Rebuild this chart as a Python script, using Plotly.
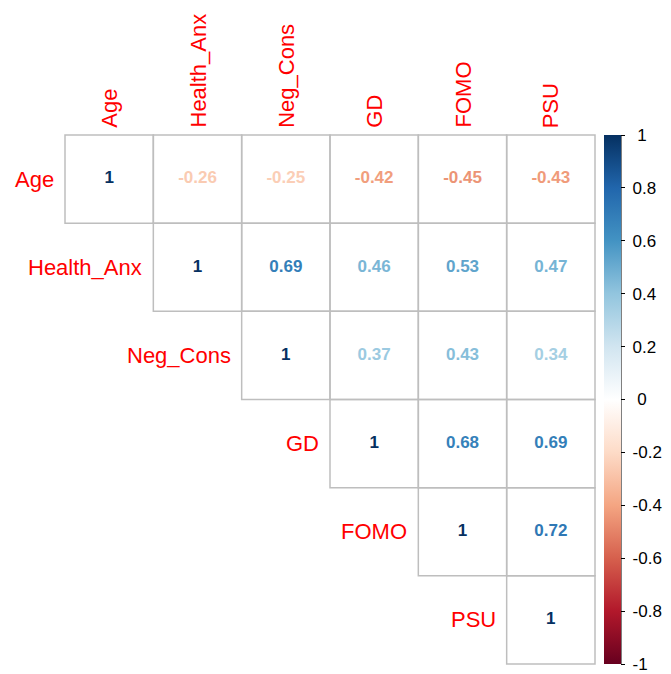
import plotly.graph_objects as go

# Variables and the upper triangle of their correlation matrix
variables = ["Age", "Health_Anx", "Neg_Cons", "GD", "FOMO", "PSU"]
r_age = [1, -0.26, -0.25, -0.42, -0.45, -0.43]
r_health_anx = [1, 0.69, 0.46, 0.53, 0.47]
r_neg_cons = [1, 0.37, 0.43, 0.34]
r_gd = [1, 0.68, 0.69]
r_fomo = [1, 0.72]
r_psu = [1]
upper_rows = [r_age, r_health_anx, r_neg_cons, r_gd, r_fomo, r_psu]

bar_ticks = [1, 0.8, 0.6, 0.4, 0.2, 0, -0.2, -0.4, -0.6, -0.8, -1]

# Diverging red-blue palette (-1 .. 1)
palette = ["#67001F", "#B2182B", "#D6604D", "#F4A582", "#FDDBC7", "#FFFFFF",
           "#D1E5F0", "#92C5DE", "#4393C3", "#2166AC", "#053061"]


def hex_rgb(h):
    h = h.lstrip("#")
    return tuple(int(h[k:k + 2], 16) for k in (0, 2, 4))


def value_colour(v):
    t = (v + 1) / 2 * (len(palette) - 1)
    k = min(int(t), len(palette) - 2)
    f = t - k
    a, b = hex_rgb(palette[k]), hex_rgb(palette[k + 1])
    c = [round(a[m] + (b[m] - a[m]) * f) for m in range(3)]
    return f"rgb({c[0]},{c[1]},{c[2]})"


def fmt(v):
    if v == int(v):
        return str(int(v))
    return f"{v:.2f}".rstrip("0")


def bar_label(v):
    pad = "\u00a0\u00a0" if v == int(v) and v >= 0 else "\u00a0"
    return pad + fmt(v)


colorscale = [[k / (len(palette) - 1), c] for k, c in enumerate(palette)]
FONT = "Liberation Sans, Arial, sans-serif"
GRID = "#BEBEBE"

xs, ys, texts, colours = [], [], [], []
shapes = []
for i, row in enumerate(upper_rows):
    for off, v in enumerate(row):
        j = i + off
        xs.append(j)
        ys.append(i)
        texts.append(fmt(v))
        colours.append(value_colour(v))
        shapes.append(dict(type="rect", xref="x", yref="y",
                           x0=j - 0.5, x1=j + 0.5, y0=i - 0.5, y1=i + 0.5,
                           line=dict(color=GRID, width=1.5),
                           fillcolor="rgba(0,0,0,0)", layer="below"))

fig = go.Figure()

fig.add_trace(go.Scatter(
    x=xs, y=ys, mode="text", text=texts,
    textfont=dict(family=FONT, size=17, color=colours, weight="bold"),
    hoverinfo="skip", showlegend=False,
))

# Colour legend
fig.add_trace(go.Scatter(
    x=[None], y=[None], mode="markers", showlegend=False, hoverinfo="skip",
    marker=dict(
        color=[0], cmin=-1, cmax=1, colorscale=colorscale, showscale=True,
        colorbar=dict(
            x=604 / 671, xanchor="left", xpad=0, ypad=0,
            y=1 - 664 / 674, yanchor="bottom",
            len=529 / 674, lenmode="fraction",
            thickness=17, thicknessmode="pixels",
            outlinewidth=0,
            tickmode="array", tickvals=bar_ticks,
            ticktext=[bar_label(t) for t in bar_ticks],
            ticks="outside", ticklen=4, tickwidth=1, tickcolor="black",
            tickfont=dict(family=FONT, size=17, color="black"),
        ),
    ),
))

annotations = []
for i, name in enumerate(variables):
    # row labels, left of each row's first cell
    annotations.append(dict(x=i - 0.5, y=i, xref="x", yref="y", text=name,
                            showarrow=False, xanchor="right", yanchor="middle",
                            xshift=-9, font=dict(family=FONT, size=22, color="red")))
    # column labels along the top
    annotations.append(dict(x=i, y=-0.5, xref="x", yref="y", text=name,
                            showarrow=False, textangle=-90, xanchor="center",
                            yanchor="bottom", yshift=5,
                            font=dict(family=FONT, size=22, color="red")))

shapes.append(dict(type="line", xref="paper", yref="paper",
                   x0=621 / 671, x1=621 / 671, y0=1 - 664 / 674, y1=1 - 135 / 674,
                   line=dict(color="black", width=1)))

cw, ch = (595 - 65) / 6, (664 - 135) / 6
fig.update_layout(
    width=671, height=674, margin=dict(l=0, r=0, t=0, b=0),
    paper_bgcolor="white", plot_bgcolor="white",
    xaxis=dict(range=[-65 / cw - 0.5, (671 - 65) / cw - 0.5], visible=False, fixedrange=True),
    yaxis=dict(range=[(674 - 135) / ch - 0.5, -135 / ch - 0.5], visible=False, fixedrange=True),
    shapes=shapes, annotations=annotations,
)

fig.write_html("out.html")
